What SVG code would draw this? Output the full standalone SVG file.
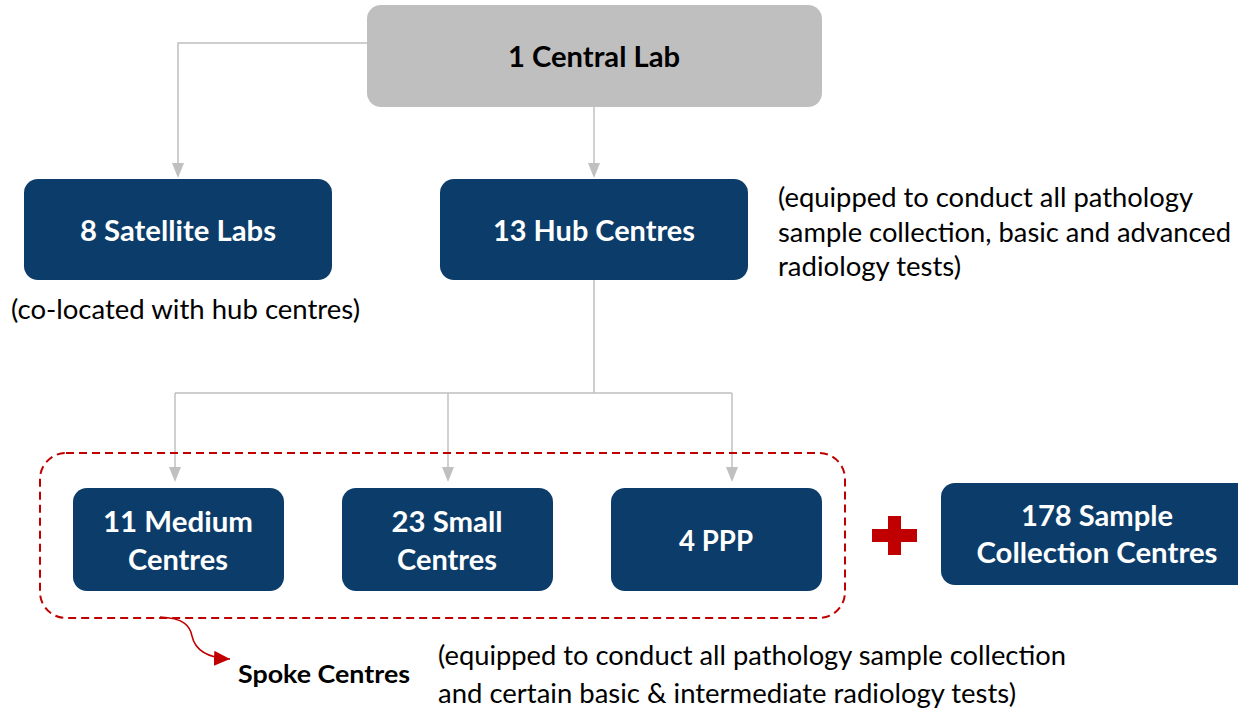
<svg xmlns="http://www.w3.org/2000/svg" width="1238" height="714" viewBox="0 0 1238 714">
  <style>
    .box { fill: #0c3d6a; }
    .lbl { font-family: "Lato", "Liberation Sans", sans-serif; font-weight: bold; font-size: 28px; fill: #ffffff; text-anchor: middle; }
    .note { font-family: "Lato", "Liberation Sans", sans-serif; font-size: 27px; fill: #000000; }
    .conn { fill: none; stroke: #c0c0c0; stroke-width: 1.5; }
  </style>
  <defs>
    <marker id="ra" viewBox="0 0 16 15" refX="16" refY="7.5" markerWidth="16" markerHeight="15" markerUnits="userSpaceOnUse" orient="auto">
      <path d="M0,0 L16,7.5 L0,15 Z" fill="#c00000"/>
    </marker>
  </defs>
  <rect width="1238" height="714" fill="#ffffff"/>

  <g id="connectors">
    <path class="conn" d="M367,43 H178 V170"/>
    <path class="conn" d="M594,107 V170"/>
    <path class="conn" d="M594,280 V393 M175,393 H732"/>
    <path class="conn" d="M175,393 V474"/>
    <path class="conn" d="M448,393 V474"/>
    <path class="conn" d="M732,393 V474"/>
    <g fill="#c0c0c0">
      <path d="M172,163 L184,163 L178,178 Z"/>
      <path d="M588,163 L600,163 L594,178 Z"/>
      <path d="M169,467 L181,467 L175,482 Z"/>
      <path d="M442,467 L454,467 L448,482 Z"/>
      <path d="M726,467 L738,467 L732,482 Z"/>
    </g>
    <path d="M160,617 C184,618 190,626 192,636 C195,650 208,658 230,659" fill="none" stroke="#c00000" stroke-width="1.5" marker-end="url(#ra)"/>
  </g>

  <g id="central-lab">
    <rect x="367" y="5" width="455" height="102" rx="14" fill="#bfbfbf"/>
    <text x="594" y="67" class="lbl" style="fill:#000000" textLength="172" lengthAdjust="spacingAndGlyphs">1 Central Lab</text>
  </g>

  <g id="satellite-labs">
    <rect class="box" x="24" y="179" width="308" height="101" rx="14"/>
    <text x="178" y="241" class="lbl" textLength="196" lengthAdjust="spacingAndGlyphs">8 Satellite Labs</text>
  </g>
  <text id="satellite-note" x="11" y="319" class="note" textLength="349" lengthAdjust="spacingAndGlyphs">(co-located with hub centres)</text>

  <g id="hub-centres">
    <rect class="box" x="440" y="179" width="308" height="101" rx="14"/>
    <text x="594" y="241" class="lbl" textLength="202" lengthAdjust="spacingAndGlyphs">13 Hub Centres</text>
  </g>
  <g id="hub-note" class="note">
    <text x="778" y="207" textLength="415" lengthAdjust="spacingAndGlyphs">(equipped to conduct all pathology</text>
    <text x="778" y="242" textLength="453" lengthAdjust="spacingAndGlyphs">sample collection, basic and advanced</text>
    <text x="778" y="276" textLength="183" lengthAdjust="spacingAndGlyphs">radiology tests)</text>
  </g>

  <g id="spoke-group">
    <rect x="40" y="453" width="805" height="165" rx="26" fill="none" stroke="#c00000" stroke-width="2" stroke-dasharray="8,5"/>
  </g>

  <g id="medium-centres">
    <rect class="box" x="73" y="488" width="211" height="103" rx="14"/>
    <text x="178" y="532" class="lbl" textLength="150" lengthAdjust="spacingAndGlyphs">11 Medium</text>
    <text x="178" y="570" class="lbl" textLength="100" lengthAdjust="spacingAndGlyphs">Centres</text>
  </g>

  <g id="small-centres">
    <rect class="box" x="342" y="488" width="211" height="103" rx="14"/>
    <text x="447" y="532" class="lbl" textLength="111" lengthAdjust="spacingAndGlyphs">23 Small</text>
    <text x="447" y="570" class="lbl" textLength="100" lengthAdjust="spacingAndGlyphs">Centres</text>
  </g>

  <g id="ppp">
    <rect class="box" x="611" y="488" width="211" height="103" rx="14"/>
    <text x="716" y="551" class="lbl" textLength="74" lengthAdjust="spacingAndGlyphs">4 PPP</text>
  </g>

  <g id="plus">
    <rect x="872" y="529" width="45" height="13" fill="#c00000"/>
    <rect x="888" y="516" width="13" height="39" fill="#c00000"/>
  </g>

  <g id="sample-collection">
    <rect class="box" x="941" y="483" width="314" height="102" rx="14"/>
    <text x="1097" y="526" class="lbl" textLength="152" lengthAdjust="spacingAndGlyphs">178 Sample</text>
    <text x="1097" y="563" class="lbl" textLength="241" lengthAdjust="spacingAndGlyphs">Collection Centres</text>
  </g>

  <text id="spoke-label" x="238" y="683" font-family="Lato, 'Liberation Sans', sans-serif" font-weight="bold" font-size="24" fill="#000000" textLength="172" lengthAdjust="spacingAndGlyphs">Spoke Centres</text>
  <g id="spoke-note" class="note">
    <text x="438" y="665" textLength="628" lengthAdjust="spacingAndGlyphs">(equipped to conduct all pathology sample collection</text>
    <text x="438" y="703" textLength="578" lengthAdjust="spacingAndGlyphs">and certain basic &amp; intermediate radiology tests)</text>
  </g>
</svg>
